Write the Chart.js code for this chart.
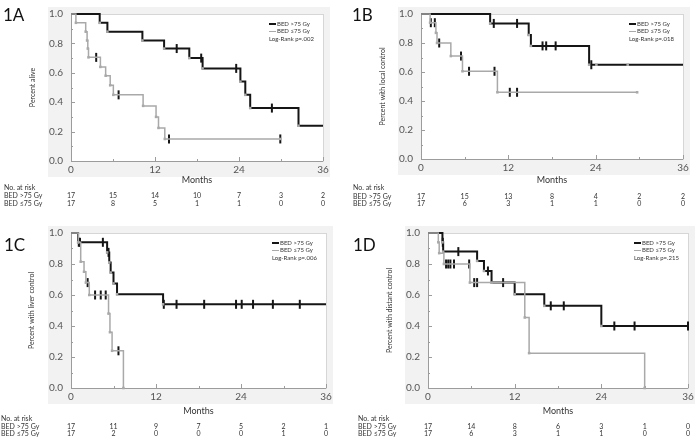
<!DOCTYPE html>
<html>
<head>
<meta charset="utf-8">
<script src="https://cdn.jsdelivr.net/npm/chart.js@4.4.1/dist/chart.umd.min.js"></script>
<style>
  body { margin: 0; background: #fff; }
  #wrap { position: relative; width: 697px; height: 439px; }
  .panel { position: absolute; }
</style>
</head>
<body>
<div id="wrap">
  <div class="panel" style="left:0;top:0;width:348px;height:219px"><canvas id="c1a"></canvas></div>
  <div class="panel" style="left:348px;top:0;width:349px;height:219px"><canvas id="c1b"></canvas></div>
  <div class="panel" style="left:0;top:219px;width:348px;height:220px"><canvas id="c1c"></canvas></div>
  <div class="panel" style="left:348px;top:219px;width:349px;height:220px"><canvas id="c1d"></canvas></div>
</div>
<script>
// risk table columns (months) and group names
const months = [0, 6, 12, 18, 24, 30, 36];
const groups = ['BED >75 Gy', 'BED \u226475 Gy'];

// 1A - overall survival
const aHiT = [0, 4.1, 5.2, 10.2, 13.3, 16.9, 18.8, 24.2, 24.9, 25.6, 32.5, 36];
const aHiS = [1, 0.94, 0.88, 0.82, 0.765, 0.70, 0.63, 0.54, 0.45, 0.36, 0.24, 0.24];
const aHiCens = [15.1, 18.6, 23.6, 28.7];
const aLoT = [0, 0.7, 2.1, 2.3, 2.4, 2.5, 4.2, 4.95, 5.6, 6.05, 10.3, 12.15, 12.5, 13.4, 29.9];
const aLoS = [1, 0.94, 0.88, 0.82, 0.765, 0.705, 0.64, 0.58, 0.515, 0.45, 0.375, 0.30, 0.225, 0.15, 0.15];
const aLoCens = [3.6, 6.8, 14.0, 29.9];
const aRiskHi = [17, 15, 14, 10, 7, 3, 2];
const aRiskLo = [17, 8, 5, 1, 1, 0, 0];

// 1B - local control
const bHiT = [0, 9.5, 14.8, 15.1, 23.1, 24.1, 28.4, 36];
const bHiS = [1, 0.935, 0.855, 0.78, 0.65, 0.65, 0.65, 0.65];
const bHiCens = [10.0, 13.2, 16.7, 17.2, 18.5, 23.4];
const bLoT = [0, 1.25, 2.05, 2.2, 4.1, 5.7, 10.5, 29.7];
const bLoS = [1, 0.94, 0.87, 0.80, 0.71, 0.605, 0.46, 0.46];
const bLoCens = [1.35, 1.9, 2.5, 5.5, 6.6, 10.1, 12.2, 13.2];
const bRiskHi = [17, 15, 13, 8, 4, 2, 2];
const bRiskLo = [17, 6, 3, 1, 1, 0, 0];

// 1C - liver control
const cHiT = [0, 1.0, 5.1, 5.4, 5.6, 6.0, 6.5, 13.0, 36];
const cHiS = [1, 0.94, 0.875, 0.81, 0.745, 0.675, 0.605, 0.54, 0.54];
const cHiCens = [1.1, 4.5, 5.3, 13.1, 14.9, 18.8, 23.3, 24.1, 25.7, 28.5, 32.3];
const cLoT = [0, 1.03, 1.37, 1.84, 2.1, 2.58, 5.3, 5.5, 5.8, 7.4];
const cLoS = [1, 0.94, 0.815, 0.75, 0.68, 0.60, 0.48, 0.36, 0.24, 0];
const cLoCens = [1.27, 2.35, 3.4, 4.2, 4.9, 6.7];
const cRiskHi = [17, 11, 9, 7, 5, 2, 1];
const cRiskLo = [17, 2, 0, 0, 0, 1, 0];

// 1D - distant control
const dHiT = [0, 2.0, 2.1, 6.8, 7.75, 8.8, 12.0, 16.1, 24.0, 36];
const dHiS = [1, 0.94, 0.88, 0.82, 0.755, 0.68, 0.605, 0.53, 0.40, 0.40];
const dHiCens = [2.05, 4.2, 8.3, 10.4, 17.0, 18.8, 25.8, 28.6, 36];
const dLoT = [0, 1.43, 1.55, 2.2, 5.8, 13.4, 14.0, 30.0];
const dLoS = [1, 0.94, 0.87, 0.80, 0.68, 0.455, 0.225, 0];
const dLoCens = [2.5, 2.8, 3.1, 3.6, 5.7, 6.4, 6.8];
const dRiskHi = [17, 14, 8, 6, 3, 1, 0];
const dRiskLo = [17, 6, 3, 1, 1, 0, 0];

const FONT = 'Lato, "Open Sans", sans-serif';
const BLACK = '#151515';
const GREY = '#a9a9a9';

const panels = [
  { id: 'c1a', tag: '1A', yTitle: 'Percent alive', p: '.002',
    hiT: aHiT, hiS: aHiS, hiC: aHiCens, loT: aLoT, loS: aLoS, loC: aLoCens, riskHi: aRiskHi, riskLo: aRiskLo,
    box: { l: 71, r: 323, t: 6, b: 161, w: 348, h: 219 }, xh: 24.5, tpad: 28.8, tag0: [3, 21],
    tbl: { x: 4, y: [188, 196, 204] } },
  { id: 'c1b', tag: '1B', yTitle: 'Percent with local control', p: '.018',
    hiT: bHiT, hiS: bHiS, hiC: bHiCens, loT: bLoT, loS: bLoS, loC: bLoCens, riskHi: bRiskHi, riskLo: bRiskLo,
    box: { l: 73, r: 335, t: 7, b: 159, w: 349, h: 219 }, xh: 26.5, tpad: 30.8, tag0: [4, 21],
    tbl: { x: 5, y: [188, 196.5, 204] } },
  { id: 'c1c', tag: '1C', yTitle: 'Percent with liver control', p: '.006',
    hiT: cHiT, hiS: cHiS, hiC: cHiCens, loT: cLoT, loS: cLoS, loC: cLoCens, riskHi: cRiskHi, riskLo: cRiskLo,
    box: { l: 71, r: 326, t: 13, b: 169, w: 348, h: 220 }, xh: 28, tpad: 27.8, tag0: [4, 32],
    tbl: { x: 1, y: [200, 207.7, 215] } },
  { id: 'c1d', tag: '1D', yTitle: 'Percent with distant control', p: '.215',
    hiT: dHiT, hiS: dHiS, hiC: dHiCens, loT: dLoT, loS: dLoS, loC: dLoCens, riskHi: dRiskHi, riskLo: dRiskLo,
    box: { l: 80, r: 340, t: 11, b: 169, w: 349, h: 220 }, xh: 28, tpad: 37.8, tag0: [5, 32],
    tbl: { x: 10, y: [200, 208, 215] } }
];

function stepPoints(t, s) {
  return t.map((x, i) => ({ x: x, y: s[i] }));
}
function levelAt(t, s, c) {
  let v = s[0];
  for (let i = 0; i < t.length; i++) if (t[i] <= c) v = s[i];
  return v;
}
function censPoints(t, s, cens) {
  return cens.map(c => ({ x: c, y: levelAt(t, s, c) }));
}

function makeDecor(p) {
  return {
    id: 'kmDecor',
    beforeDraw(chart) {
      const { ctx, chartArea: a } = chart;
      const xs = chart.scales.x, ys = chart.scales.y;
      ctx.save();
      // light grey frame behind the plot
      ctx.fillStyle = '#f2f2f2';
      const fy = Math.max(0, a.top - 7);
      ctx.fillRect(a.left - 23, fy, a.right - a.left + 30, a.bottom + 16 - fy);
      ctx.fillStyle = '#fff';
      ctx.fillRect(a.left, a.top, a.right - a.left, a.bottom - a.top);
      ctx.lineWidth = 1;
      ctx.strokeStyle = '#d6d6d6';
      ctx.strokeRect(a.left + 0.5, a.top + 0.5, a.right - a.left, a.bottom - a.top);
      ctx.strokeStyle = '#9c9c9c';
      ctx.beginPath();
      ctx.moveTo(a.left + 0.5, a.top);
      ctx.lineTo(a.left + 0.5, a.bottom + 0.5);
      ctx.lineTo(a.right, a.bottom + 0.5);
      // inward tick marks, major and minor
      for (let m = 0; m <= 36; m += 6) {
        const px = Math.round(xs.getPixelForValue(m)) + 0.5;
        ctx.moveTo(px, a.bottom);
        ctx.lineTo(px, a.bottom - (m % 12 ? 2 : 4));
      }
      for (let k = 0; k <= 10; k++) {
        const py = Math.round(ys.getPixelForValue(k / 10)) + 0.5;
        ctx.moveTo(a.left, py);
        ctx.lineTo(a.left + (k % 2 ? 2 : 4), py);
      }
      ctx.stroke();
      ctx.restore();
    },
    afterDraw(chart) {
      const { ctx, chartArea: a } = chart;
      const xs = chart.scales.x;
      ctx.save();
      // panel tag
      ctx.fillStyle = '#111';
      ctx.font = '17px ' + FONT;
      ctx.textAlign = 'left';
      ctx.textBaseline = 'alphabetic';
      ctx.fillText(p.tag, p.tag0[0], p.tag0[1]);

      // legend
      const lx = a.right - 46;
      const ly = [a.top + 10, a.top + 17.5, a.top + 25];
      ctx.font = '6px ' + FONT;
      ctx.textBaseline = 'middle';
      ctx.fillStyle = '#333';
      ctx.strokeStyle = BLACK;
      ctx.lineWidth = 2;
      ctx.beginPath(); ctx.moveTo(lx - 8, ly[0]); ctx.lineTo(lx - 1, ly[0]); ctx.stroke();
      ctx.strokeStyle = GREY;
      ctx.lineWidth = 1;
      ctx.beginPath(); ctx.moveTo(lx - 8, ly[1]); ctx.lineTo(lx - 1, ly[1]); ctx.stroke();
      ctx.fillText(groups[0], lx, ly[0]);
      ctx.fillText(groups[1], lx, ly[1]);
      ctx.fillText('Log-Rank p=' + p.p, a.right - 54, ly[2]);

      // number at risk table
      ctx.font = '7px ' + FONT;
      ctx.fillStyle = '#333';
      ctx.textAlign = 'left';
      ctx.fillText('No. at risk', p.tbl.x, p.tbl.y[0]);
      ctx.fillText(groups[0], p.tbl.x, p.tbl.y[1]);
      ctx.fillText(groups[1], p.tbl.x, p.tbl.y[2]);
      ctx.textAlign = 'center';
      months.forEach((m, i) => {
        const px = xs.getPixelForValue(m);
        ctx.fillText(String(p.riskHi[i]), px, p.tbl.y[1]);
        ctx.fillText(String(p.riskLo[i]), px, p.tbl.y[2]);
      });
      ctx.restore();
    }
  };
}

function eventRadius(c) {
  const raw = c.raw;
  if (!raw || c.dataIndex === 0 || raw.x >= 36) return 0;
  return 1.8;
}

panels.forEach(p => {
  const b = p.box;
  const censorStyle = {
    type: 'line', showLine: false, clip: false,
    pointStyle: 'line', rotation: 90, pointRadius: 4.5,
    pointBorderColor: BLACK, pointBorderWidth: 2, pointHoverRadius: 4.5
  };
  new Chart(document.getElementById(p.id), {
    type: 'line',
    data: {
      datasets: [
        { label: groups[1], data: stepPoints(p.loT, p.loS), stepped: true,
          borderColor: GREY, borderWidth: 1.5, pointStyle: 'rect',
          pointRadius: eventRadius, pointBackgroundColor: GREY, pointBorderWidth: 0, clip: 3 },
        { label: groups[0], data: stepPoints(p.hiT, p.hiS), stepped: true,
          borderColor: BLACK, borderWidth: 2, pointStyle: 'rect',
          pointRadius: eventRadius, pointBackgroundColor: GREY, pointBorderWidth: 0, clip: 3 },
        Object.assign({ label: 'cens lo', data: censPoints(p.loT, p.loS, p.loC) }, censorStyle),
        Object.assign({ label: 'cens hi', data: censPoints(p.hiT, p.hiS, p.hiC) }, censorStyle)
      ]
    },
    options: {
      responsive: true,
      maintainAspectRatio: false,
      animation: false,
      events: [],
      layout: { padding: { left: 0, top: b.t, right: b.w - b.r, bottom: b.h - b.b - p.xh } },
      plugins: { legend: { display: false }, tooltip: { enabled: false } },
      scales: {
        x: {
          type: 'linear', min: 0, max: 36,
          grid: { display: false, drawTicks: false }, border: { display: false },
          ticks: { stepSize: 12, padding: 3, color: '#555', font: { family: FONT, size: 10 } },
          title: { display: true, text: 'Months', color: '#333', padding: { top: 0, bottom: 0 },
                   font: { family: FONT, size: 9 } },
          afterFit: s => { s.height = p.xh; }
        },
        y: {
          min: 0, max: 1,
          grid: { display: false, drawTicks: false }, border: { display: false },
          ticks: { stepSize: 0.2, padding: 8, color: '#555', font: { family: FONT, size: 10 },
                   callback: v => v.toFixed(1) },
          title: { display: true, text: p.yTitle, color: '#333', padding: { top: p.tpad, bottom: 0 },
                   font: { family: FONT, size: 7 } },
          afterFit: s => { s.width = b.l; }
        }
      }
    },
    plugins: [makeDecor(p)]
  });
});
</script>
</body>
</html>
